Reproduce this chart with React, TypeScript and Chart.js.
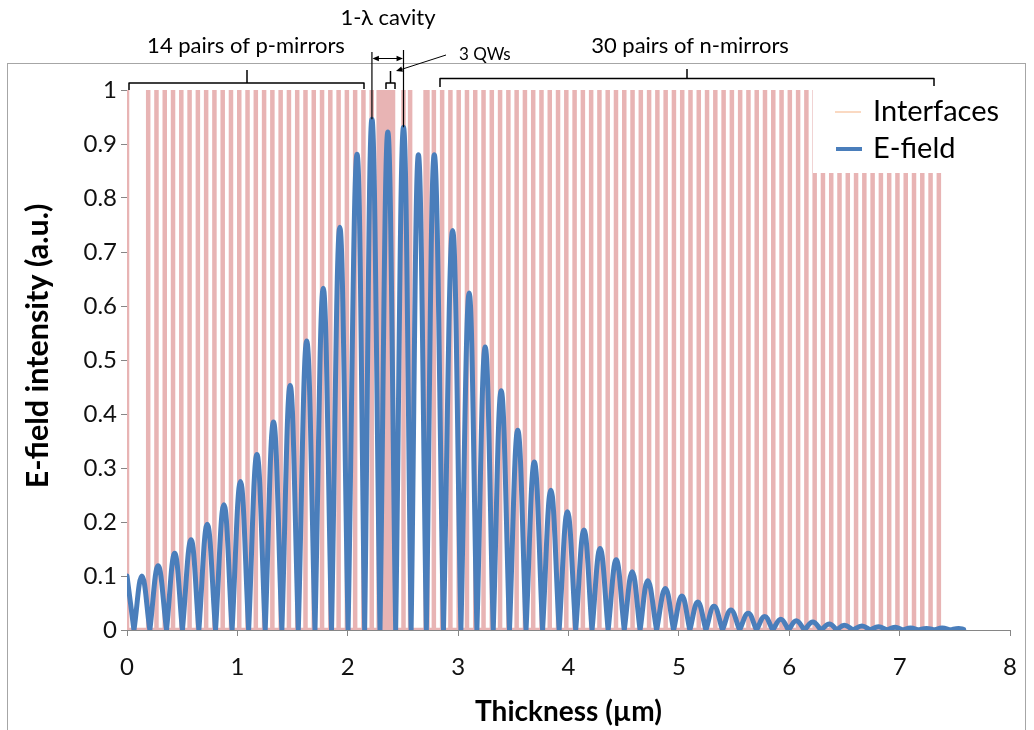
import React, { useEffect, useRef } from "react";
import { Chart, registerables } from "chart.js";

Chart.register(...registerables);

// ---------- data ----------
const xTickValues = [0, 1, 2, 3, 4, 5, 6, 7, 8];
const yTickValues = [0, 0.1, 0.2, 0.3, 0.4, 0.5, 0.6, 0.7, 0.8, 0.9, 1];

// positions (µm) of the layer interfaces (drawn as vertical strokes 0 -> 1)
const interfaceX = [
  0,
  0.192, 0.267, 0.342, 0.417, 0.492, 0.567, 0.642, 0.717, 0.792, 0.867,
  0.942, 1.017, 1.092, 1.167, 1.242, 1.317, 1.392, 1.467, 1.542, 1.617,
  1.692, 1.767, 1.842, 1.917, 1.992, 2.067, 2.142, 2.217,
  2.28, 2.31, 2.33, 2.35, 2.37, 2.39, 2.41, 2.505, 2.565, 2.705, 2.722, 2.78,
  2.855, 2.93, 3.005, 3.08, 3.155, 3.23, 3.305, 3.38, 3.455, 3.53,
  3.605, 3.68, 3.755, 3.83, 3.905, 3.98, 4.055, 4.13, 4.205, 4.28,
  4.355, 4.43, 4.505, 4.58, 4.655, 4.73, 4.805, 4.88, 4.955, 5.03,
  5.105, 5.18, 5.255, 5.33, 5.405, 5.48, 5.555, 5.63, 5.705, 5.78,
  5.855, 5.93, 6.005, 6.08, 6.155, 6.23, 6.305, 6.38, 6.455, 6.53,
  6.605, 6.68, 6.755, 6.83, 6.905, 6.98, 7.055, 7.13, 7.205, 7.28, 7.355,
];

// E-field intensity: start value, zero crossings, peaks, end value
const fieldStartX = 0;
const fieldStartY = 0.1;
const fieldZeroX = [
  0.063, 0.207, 0.358, 0.502, 0.651, 0.802, 0.952, 1.102, 1.252, 1.403,
  1.552, 1.703, 1.853, 2.003, 2.153, 2.292, 2.434, 2.574, 2.712, 2.867,
  3.025, 3.170, 3.318, 3.465, 3.615, 3.765, 3.915, 4.065, 4.213, 4.359,
  4.505, 4.648, 4.798, 4.952, 5.099, 5.245, 5.395, 5.550, 5.703, 5.850,
  5.993, 6.138, 6.288, 6.430, 6.578, 6.733, 6.883, 7.028, 7.171, 7.314,
  7.460,
];
const fieldPeakX = [
  0.135, 0.282, 0.432, 0.580, 0.727, 0.878, 1.028, 1.177, 1.327, 1.478,
  1.628, 1.778, 1.928, 2.084, 2.219, 2.363, 2.505, 2.640, 2.784, 2.950,
  3.100, 3.245, 3.390, 3.540, 3.690, 3.840, 3.990, 4.140, 4.286, 4.432,
  4.577, 4.718, 4.877, 5.027, 5.171, 5.318, 5.471, 5.628, 5.777, 5.923,
  6.063, 6.213, 6.363, 6.498, 6.658, 6.808, 6.958, 7.099, 7.243, 7.385,
  7.534,
];
const fieldPeakY = [
  0.100, 0.119, 0.142, 0.167, 0.196, 0.232, 0.275, 0.325, 0.385, 0.453,
  0.535, 0.633, 0.746, 0.881, 0.946, 0.922, 0.931, 0.880, 0.880, 0.740,
  0.624, 0.524, 0.443, 0.370, 0.311, 0.259, 0.219, 0.185, 0.151, 0.130,
  0.108, 0.091, 0.077, 0.063, 0.052, 0.044, 0.037, 0.031, 0.025, 0.020,
  0.017, 0.015, 0.011, 0.009, 0.0074, 0.006, 0.005, 0.0037, 0.003, 0.0037,
  0.003,
];
const fieldEndX = 7.58;
const fieldEndY = 0.001;

// ---------- styling ----------
const FONT = "Lato, 'Open Sans', 'DejaVu Sans', sans-serif";
const BLUE = "#4a7ebb";
const PINK = "#e8b4b4";
const LEGEND_PEACH = "#f9cdae";
const AXIS_GREY = "#868686";

function buildInterfaceData() {
  const pts: { x: number; y: number }[] = [];
  interfaceX.forEach((x) => {
    pts.push({ x, y: 0 }, { x, y: 1 }, { x, y: 0 });
  });
  return pts;
}

function buildFieldData() {
  const pts: { x: number; y: number | null }[] = [];
  pts.push({ x: fieldStartX, y: fieldStartY }, { x: fieldZeroX[0], y: 0 }, { x: fieldZeroX[0], y: null });
  for (let i = 0; i < fieldPeakX.length; i++) {
    const left = fieldZeroX[i];
    const isLast = i + 1 >= fieldZeroX.length;
    const right = isLast ? fieldEndX : fieldZeroX[i + 1];
    const rightY = isLast ? fieldEndY : 0;
    pts.push({ x: left, y: 0 }, { x: fieldPeakX[i], y: fieldPeakY[i] }, { x: right, y: rightY });
    if (!isLast) pts.push({ x: right, y: null });
  }
  return pts;
}

function line(ctx: CanvasRenderingContext2D, pts: number[][]) {
  ctx.beginPath();
  ctx.moveTo(pts[0][0], pts[0][1]);
  for (let i = 1; i < pts.length; i++) ctx.lineTo(pts[i][0], pts[i][1]);
  ctx.stroke();
}

function arrowHead(ctx: CanvasRenderingContext2D, x: number, y: number, fromX: number, fromY: number, size: number) {
  const ang = Math.atan2(y - fromY, x - fromX);
  ctx.beginPath();
  ctx.moveTo(x, y);
  ctx.lineTo(x - size * Math.cos(ang - 0.4), y - size * Math.sin(ang - 0.4));
  ctx.lineTo(x - size * Math.cos(ang + 0.4), y - size * Math.sin(ang + 0.4));
  ctx.closePath();
  ctx.fill();
}

const overlayPlugin = {
  id: "overlay",
  afterDatasetsDraw(chart: any) {
    const ctx: CanvasRenderingContext2D = chart.ctx;
    ctx.save();
    // legend (white box lying over the plot)
    ctx.fillStyle = "#ffffff";
    ctx.fillRect(813, 84, 200, 89);
    ctx.lineCap = "butt";
    ctx.strokeStyle = LEGEND_PEACH;
    ctx.lineWidth = 1.5;
    line(ctx, [[835, 112], [861, 112]]);
    ctx.strokeStyle = BLUE;
    ctx.lineWidth = 4;
    line(ctx, [[836, 149], [862, 149]]);
    ctx.fillStyle = "#000";
    ctx.font = `29px ${FONT}`;
    ctx.textBaseline = "middle";
    ctx.textAlign = "left";
    ctx.fillText("Interfaces", 873, 112);
    ctx.fillText("E-field", 873, 149);
    ctx.restore();
  },
  afterDraw(chart: any) {
    const ctx: CanvasRenderingContext2D = chart.ctx;
    const xs = chart.scales.x;
    const ys = chart.scales.y;
    ctx.save();
    // outer frame
    ctx.strokeStyle = "#a6a6a6";
    ctx.lineWidth = 1;
    ctx.strokeRect(7.5, 63.5, 1018, 700);

    // y-axis title
    ctx.save();
    ctx.translate(38, 346);
    ctx.rotate(-Math.PI / 2);
    ctx.fillStyle = "#000";
    ctx.font = `bold 30.5px ${FONT}`;
    ctx.textAlign = "center";
    ctx.textBaseline = "middle";
    ctx.fillText("E-field intensity (a.u.)", 0, 0);
    ctx.restore();

    // texts
    ctx.fillStyle = "#000";
    ctx.textBaseline = "middle";
    ctx.textAlign = "center";
    ctx.font = `22px ${FONT}`;
    ctx.fillText("1-λ cavity", 388, 18);
    ctx.fillText("14 pairs of p-mirrors", 246, 46);
    ctx.fillText("30 pairs of n-mirrors", 690, 46);
    ctx.textAlign = "left";
    ctx.font = `17px ${FONT}`;
    ctx.fillText("3 QWs", 459, 55);

    ctx.strokeStyle = "#000";
    ctx.lineWidth = 1.5;
    ctx.lineJoin = "round";
    // p-mirror bracket
    line(ctx, [[129, 90], [129, 83], [364, 83], [364, 89]]);
    line(ctx, [[247, 83], [247, 70]]);
    // n-mirror bracket
    line(ctx, [[440, 87], [440, 78.5], [934, 78.5], [934, 86]]);
    line(ctx, [[687, 78.5], [687, 69]]);
    // QW bracket
    line(ctx, [[386, 89], [386, 83], [395, 83], [395, 89]]);
    line(ctx, [[390.5, 83], [390.5, 71]]);
    // QW arrow
    ctx.lineWidth = 1;
    line(ctx, [[446, 55], [398, 70.5]]);
    ctx.fillStyle = "#000";
    arrowHead(ctx, 396, 71, 446, 55, 7);

    // cavity markers tied to the two peaks
    const xl = xs.getPixelForValue(fieldPeakX[14]);
    const xr = xs.getPixelForValue(fieldPeakX[16]);
    const yl = ys.getPixelForValue(fieldPeakY[14]);
    const yr = ys.getPixelForValue(fieldPeakY[16]);
    ctx.lineWidth = 1.2;
    line(ctx, [[xl, 52], [xl, yl]]);
    line(ctx, [[xr, 50], [xr, yr]]);
    ctx.lineWidth = 1;
    line(ctx, [[xl + 5, 58.5], [xr - 5, 58.5]]);
    arrowHead(ctx, xl + 0.5, 58.5, xr, 58.5, 7);
    arrowHead(ctx, xr - 0.5, 58.5, xl, 58.5, 7);
    ctx.restore();
  },
};

export default function App() {
  const canvasRef = useRef<HTMLCanvasElement | null>(null);

  useEffect(() => {
    document.body.style.margin = "0";
    const canvas = canvasRef.current;
    if (!canvas) return;
    const chart = new Chart(canvas, {
      type: "line",
      data: {
        datasets: [
          {
            label: "E-field",
            data: buildFieldData() as any,
            borderColor: BLUE,
            borderWidth: 5,
            pointRadius: 0,
            tension: 0.4,
            spanGaps: false,
            fill: false,
            order: 0,
            borderCapStyle: "round",
            borderJoinStyle: "round",
          },
          {
            label: "Interfaces",
            data: buildInterfaceData() as any,
            borderColor: PINK,
            borderWidth: 4.5,
            pointRadius: 0,
            tension: 0,
            fill: false,
            order: 1,
          },
        ],
      },
      options: {
        animation: false,
        responsive: false,
        maintainAspectRatio: false,
        devicePixelRatio: 1,
        layout: { padding: { top: 90, right: 19, left: 0, bottom: 0 } },
        plugins: {
          legend: { display: false },
          tooltip: { enabled: false },
        },
        scales: {
          x: {
            type: "linear",
            min: 0,
            max: 8,
            afterFit: (s: any) => {
              s.height = 100;
            },
            afterBuildTicks: (s: any) => {
              s.ticks = xTickValues.map((v) => ({ value: v }));
            },
            ticks: {
              color: "#111",
              font: { family: FONT, size: 24 },
              padding: 17,
              maxRotation: 0,
              callback: (v: any) => String(v),
            },
            grid: {
              display: true,
              drawOnChartArea: false,
              drawTicks: true,
              tickLength: 6,
              color: AXIS_GREY,
            },
            border: { display: true, color: AXIS_GREY, width: 1 },
            title: {
              display: true,
              text: "Thickness (µm)",
              color: "#000",
              font: { family: FONT, size: 28, weight: "bold" },
              padding: { top: 0, bottom: 1 },
            },
          },
          y: {
            type: "linear",
            min: 0,
            max: 1,
            afterFit: (s: any) => {
              s.width = 127;
            },
            afterBuildTicks: (s: any) => {
              s.ticks = yTickValues.map((v) => ({ value: v }));
            },
            ticks: {
              color: "#111",
              font: { family: FONT, size: 24 },
              padding: 4,
              callback: (v: any) => String(Math.round(Number(v) * 10) / 10),
            },
            grid: {
              display: true,
              drawOnChartArea: false,
              drawTicks: true,
              tickLength: 6,
              color: AXIS_GREY,
            },
            border: { display: true, color: AXIS_GREY, width: 1 },
            title: { display: false },
          },
        },
      },
      plugins: [overlayPlugin],
    } as any);
    return () => chart.destroy();
  }, []);

  return (
    <div style={{ position: "absolute", left: 0, top: 0, width: 1034, height: 730 }}>
      <canvas ref={canvasRef} width={1034} height={730} style={{ width: 1034, height: 730 }} />
    </div>
  );
}
